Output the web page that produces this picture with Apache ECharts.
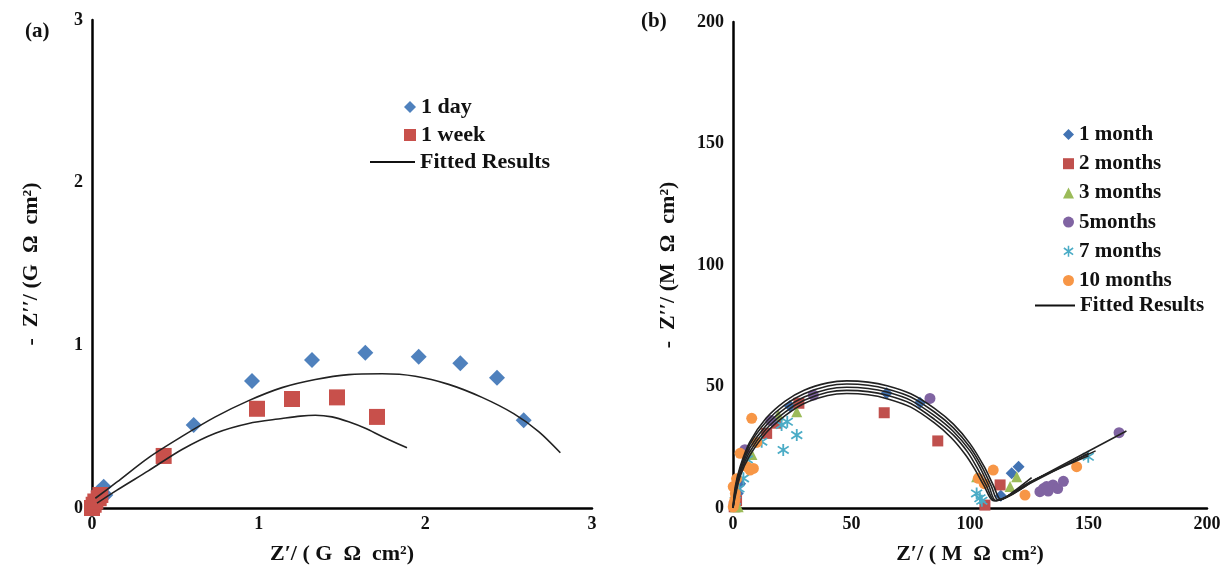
<!DOCTYPE html>
<html>
<head>
<meta charset="utf-8">
<script src="https://cdn.jsdelivr.net/npm/echarts@6/dist/echarts.min.js"></script>
<style>
html,body{margin:0;padding:0;background:#fff;}
#c{width:1228px;height:566px;}
</style>
</head>
<body>
<div id="c"></div>
<script>
// ---------- Panel (a) data: Z' / Z'' in G Ω cm² ----------
const day1 = [[0.02,0.05],[0.04,0.10],[0.07,0.13],[0.08,0.08],[0.61,0.51],[0.96,0.78],[1.32,0.91],[1.64,0.955],[1.96,0.93],[2.21,0.89],[2.43,0.80],[2.59,0.54]];
const week1 = [[0.00,0.00],[0.01,0.02],[0.02,0.04],[0.04,0.06],[0.05,0.08],[0.43,0.32],[0.99,0.61],[1.20,0.67],[1.47,0.68],[1.71,0.56]];
const fitA1 = [[0.02,0.06],[0.15,0.16],[0.34,0.31],[0.54,0.44],[0.74,0.56],[0.94,0.66],[1.14,0.74],[1.34,0.79],[1.54,0.82],[1.74,0.825],[1.94,0.81],[2.14,0.76],[2.34,0.68],[2.53,0.58],[2.68,0.47],[2.81,0.34]];
const fitA2 = [[0.03,0.03],[0.15,0.11],[0.34,0.23],[0.54,0.36],[0.74,0.46],[0.94,0.52],[1.14,0.55],[1.25,0.565],[1.34,0.57],[1.44,0.56],[1.54,0.53],[1.64,0.49],[1.74,0.44],[1.89,0.37]];
const ticksA = [0,1,2,3];

// ---------- Panel (b) data: Z' / Z'' in M Ω cm² ----------
const month1 = [[0.5,1],[1,3],[2,6],[3,10],[24,42],[64.8,47.2],[78.9,43.3],[113,5],[117.6,14.3],[120.5,17]];
const month2 = [[0.5,0.5],[1.5,3],[14.2,30.7],[18.4,34.9],[27.8,43.1],[63.8,39.2],[86.4,27.6],[112.7,9.5],[106.3,1.2]];
const month3 = [[1,0.5],[2.2,0.5],[8,22],[19.1,38.3],[26.9,39.6],[102.8,12.9],[116.9,8.8],[119.7,12.9]];
const month5 = [[5,24],[16,36],[33.9,46.5],[83.1,45.1],[129.5,6.7],[131,8],[132.3,8.8],[133,7],[135,9.5],[137,8],[139.4,11],[162.9,31]];
const month7 = [[1,3],[2.5,8],[4.4,12.2],[6,20],[12.1,27.3],[20.5,34.2],[21.2,23.9],[22.9,35.5],[26.9,30],[102.8,6],[104.2,4],[105,3],[149.9,21.1]];
const month10 = [[0.1,0.5],[0.5,2],[0.8,3.3],[1,6],[0.1,8.8],[1.5,12],[3,22.5],[5.8,17],[7.2,15.6],[8.6,16.3],[7.9,36.9],[10,27],[103.5,12.2],[106,10],[109.8,15.6],[123.2,5.3],[145,17]];
const fitB1 = [[0,0],[1,9],[3,17],[7,27],[14,37],[22,44],[30,48.5],[40,51.5],[48,52.3],[57,51.8],[65,50.3],[75,47],[85,41],[93,34.5],[100,26.5],[106,17],[110,9],[113,3.5],[118,6.5],[126,12.5]];
const fitB2 = [[0,0],[1,8],[3,16],[7,26],[14,35.5],[22,42.5],[30,47],[40,50.2],[48,51],[57,50.5],[65,49],[75,45.7],[85,39.5],[93,33],[100,25],[105,17],[109,9],[112,3.2],[125,10],[150,22.5]];
const fitB3 = [[0,0],[1,7],[3,15],[7,24.5],[14,34],[22,41],[30,45.7],[40,48.9],[48,49.7],[57,49.2],[65,47.7],[75,44.3],[85,38],[93,31.5],[100,23.5],[104,17],[108,9],[111,3],[125,10.5],[153,23.5]];
const fitB4 = [[0,0],[1,6],[3,14],[7,23],[14,32.5],[22,39.5],[30,44.3],[40,47.6],[48,48.4],[57,47.9],[65,46.4],[75,43],[85,36.5],[93,30],[99,23],[103,16.5],[107,9],[110.5,3],[130,13],[166,31.7]];
const fitB5 = [[0,0],[1,5],[3,13],[7,21.5],[14,31],[22,38],[30,43],[40,46.3],[48,47.1],[57,46.6],[65,45],[75,41.5],[85,35],[92,29],[98,22],[102,16],[106,9],[110,3],[128,12],[150,21.5]];
const ticksB = [0,50,100,150,200];

const FONT = '"Liberation Serif","Times New Roman",serif';
const ASTER = 'path://M4.3 0L5.7 0L5.7 10L4.3 10Z M1.21 1.43L9.61 7.43L8.79 8.57L0.39 2.57Z M0.39 7.43L8.79 1.43L9.61 2.57L1.21 8.57Z';

const chart = echarts.init(document.getElementById('c'), null, {renderer:'canvas'});

function axisBase(min, max, interval, name, isX, gap) {
  return {
    type:'value', min:min, max:max, interval:interval,
    name:name, nameLocation:'middle', nameGap:gap,
    nameTextStyle:{fontFamily:FONT, fontWeight:'bold', fontSize:22, color:'#111'},
    axisLine:{show:true, onZero:false, lineStyle:{color:'#000', width:2.5}},
    axisTick:{show:false},
    splitLine:{show:false},
    axisLabel:{fontFamily:FONT, fontWeight:'bold', fontSize:18, color:'#111', margin:isX?7:9}
  };
}

function scatter(name, data, symbol, size, color, xi) {
  return {type:'scatter', name:name, data:data, symbol:symbol, symbolSize:size,
          itemStyle:{color:color, opacity:1}, xAxisIndex:xi, yAxisIndex:xi, clip:false, z:3};
}
function fit(data, xi) {
  return {type:'line', name:'Fitted Results', data:data, xAxisIndex:xi, yAxisIndex:xi,
          symbol:'none', smooth:0.3, itemStyle:{color:'#111'}, lineStyle:{color:'#222', width:1.6}, z:4, silent:true};
}

const legendTextA = {fontFamily:FONT, fontWeight:'bold', fontSize:22, color:'#111'};
const legendTextB = {fontFamily:FONT, fontWeight:'bold', fontSize:21, color:'#111'};

const option = {
  animation:false,
  backgroundColor:'#fff',
  grid:[
    {left:92, top:20, width:500, height:488, outerBoundsMode:'none', containLabel:false},
    {left:733, top:22, width:474, height:486, outerBoundsMode:'none', containLabel:false}
  ],
  xAxis:[
    Object.assign(axisBase(ticksA[0], ticksA[ticksA.length-1], 1, 'Z\u2032/ ( G  \u03A9  cm\u00B2)', true, 35), {gridIndex:0}),
    Object.assign(axisBase(ticksB[0], ticksB[ticksB.length-1], 50, 'Z\u2032/ ( M  \u03A9  cm\u00B2)', true, 35), {gridIndex:1})
  ],
  yAxis:[
    Object.assign(axisBase(ticksA[0], ticksA[ticksA.length-1], 1, '-  Z\u2032\u2032/ (G  \u03A9  cm\u00B2)', false, 50), {gridIndex:0}),
    Object.assign(axisBase(ticksB[0], ticksB[ticksB.length-1], 50, '-  Z\u2032\u2032/ (M  \u03A9  cm\u00B2)', false, 54), {gridIndex:1})
  ],
  legend:[
    {data:['1 day','1 week'], orient:'vertical', left:399, top:91, itemWidth:12, itemHeight:12, itemGap:6,
     selectedMode:false, textStyle:legendTextA},
    {data:[{name:'Fitted Results', icon:'rect'}], left:365, top:146, itemWidth:45, itemHeight:2,
     selectedMode:false, textStyle:legendTextA},
    {data:['1 month','2 months','3 months','5months','7 months','10 months'], orient:'vertical', left:1058, top:119,
     itemWidth:11, itemHeight:11, itemGap:8.2, selectedMode:false, textStyle:legendTextB},
    {data:[{name:'Fitted Results', icon:'rect'}], left:1030, top:290, itemWidth:40, itemHeight:2,
     selectedMode:false, textStyle:legendTextB}
  ],
  graphic:[
    {type:'text', left:25, top:21, style:{text:'(a)', font:'bold 21px '+FONT, fill:'#111'}},
    {type:'text', left:641, top:11, style:{text:'(b)', font:'bold 21px '+FONT, fill:'#111'}}
  ],
  series:[
    fit(fitA1,0), fit(fitA2,0),
    scatter('1 day', day1, 'diamond', 16, '#4F81BD', 0),
    scatter('1 week', week1, 'rect', 16, '#C8504B', 0),
    scatter('1 month', month1, 'diamond', 12, '#4273B3', 1),
    scatter('2 months', month2, 'rect', 11, '#C0504D', 1),
    scatter('3 months', month3, 'triangle', 11, '#9BBB59', 1),
    scatter('5months', month5, 'circle', 11, '#8064A2', 1),
    scatter('7 months', month7, ASTER, 12, '#4BACC6', 1),
    scatter('10 months', month10, 'circle', 11, '#F79646', 1),
    fit(fitB1,1), fit(fitB2,1), fit(fitB3,1), fit(fitB4,1), fit(fitB5,1)
  ]
};
chart.setOption(option);
</script>
</body>
</html>
